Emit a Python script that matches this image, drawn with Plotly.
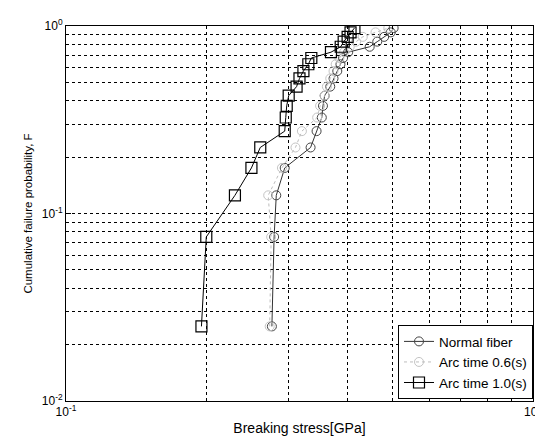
import plotly.graph_objects as go

# Cumulative failure probability F = (i-0.5)/n, n = 20
F = [0.025, 0.075, 0.125, 0.175, 0.225, 0.275, 0.325, 0.375, 0.425, 0.475,
     0.525, 0.575, 0.625, 0.675, 0.725, 0.775, 0.825, 0.875, 0.925, 0.975]

normal_fiber = [0.276, 0.279, 0.282, 0.294, 0.334, 0.344, 0.353, 0.355, 0.358, 0.368,
                0.374, 0.381, 0.387, 0.392, 0.402, 0.447, 0.464, 0.480, 0.496, 0.503]
arc_06 = [0.273, 0.275, 0.271, 0.290, 0.310, 0.320, 0.345, 0.350, 0.358, 0.362,
          0.368, 0.374, 0.378, 0.385, 0.394, 0.405, 0.418, 0.432, 0.460, 0.490]
arc_10 = [0.195, 0.1997, 0.230, 0.2495, 0.2606, 0.294, 0.2955, 0.2969, 0.2998, 0.3117,
          0.3162, 0.3224, 0.3303, 0.3352, 0.3693, 0.3875, 0.3932, 0.4009, 0.4067, 0.4146]

x_major = [0.1, 1]
x_major_text = ["10<sup>-1</sup>", "10<sup>0</sup>"]
y_major = [0.01, 0.1, 1]
y_major_text = ["10<sup>-2</sup>", "10<sup>-1</sup>", "10<sup>0</sup>"]
x_minor = [0.2, 0.3, 0.4, 0.5, 0.6, 0.7, 0.8, 0.9]
y_minor = [0.02, 0.03, 0.04, 0.05, 0.06, 0.07, 0.08, 0.09,
           0.2, 0.3, 0.4, 0.5, 0.6, 0.7, 0.8, 0.9]

fig = go.Figure()
fig.add_trace(go.Scatter(x=normal_fiber, y=F, name="Normal fiber", mode="lines+markers",
                         line=dict(color="#333333", width=1),
                         marker=dict(symbol="circle-open", size=9, color="#444444", line=dict(width=1))))
fig.add_trace(go.Scatter(x=arc_06, y=F, name="Arc time 0.6(s)", mode="lines+markers",
                         line=dict(color="#bdbdbd", width=1, dash="dot"),
                         marker=dict(symbol="circle-open", size=9, color="#c4c4c4", line=dict(width=1))))
fig.add_trace(go.Scatter(x=arc_10, y=F, name="Arc time 1.0(s)", mode="lines+markers",
                         line=dict(color="black", width=1),
                         marker=dict(symbol="square-open", size=11, color="black", line=dict(width=1.2))))

grid = dict(gridcolor="black", gridwidth=1, griddash="3px,3px")
fig.update_xaxes(type="log", range=[-1, 0], tickvals=x_major, ticktext=x_major_text,
                 showline=True, linecolor="black", linewidth=1, mirror="allticks",
                 ticks="inside", ticklen=5, tickcolor="black", showgrid=True, **grid,
                 minor=dict(tickvals=x_minor, ticks="inside", ticklen=3, tickcolor="black",
                            showgrid=True, **grid),
                 title=dict(text="Breaking stress[GPa]", standoff=4),
                 zeroline=False)
fig.update_yaxes(type="log", range=[-2, 0], tickvals=y_major, ticktext=y_major_text,
                 showline=True, linecolor="black", linewidth=1, mirror="allticks",
                 ticks="inside", ticklen=5, tickcolor="black", showgrid=True, **grid,
                 minor=dict(tickvals=y_minor, ticks="inside", ticklen=3, tickcolor="black",
                            showgrid=True, **grid),
                 title=dict(text="Cumulative failure probability, F", standoff=6,
                            font=dict(size=11.5)),
                 zeroline=False)

fig.update_layout(
    width=543, height=441,
    margin=dict(l=58, r=9, t=16, b=48),
    paper_bgcolor="white", plot_bgcolor="white",
    font=dict(family="Liberation Sans, Arial, sans-serif", size=12, color="black"),
    legend=dict(x=1.0, y=0.005, xanchor="right", yanchor="bottom",
                bgcolor="white", bordercolor="black", borderwidth=1,
                font=dict(size=13.5), tracegroupgap=0, itemwidth=30),
    showlegend=True,
)

fig.write_html("out.html")
